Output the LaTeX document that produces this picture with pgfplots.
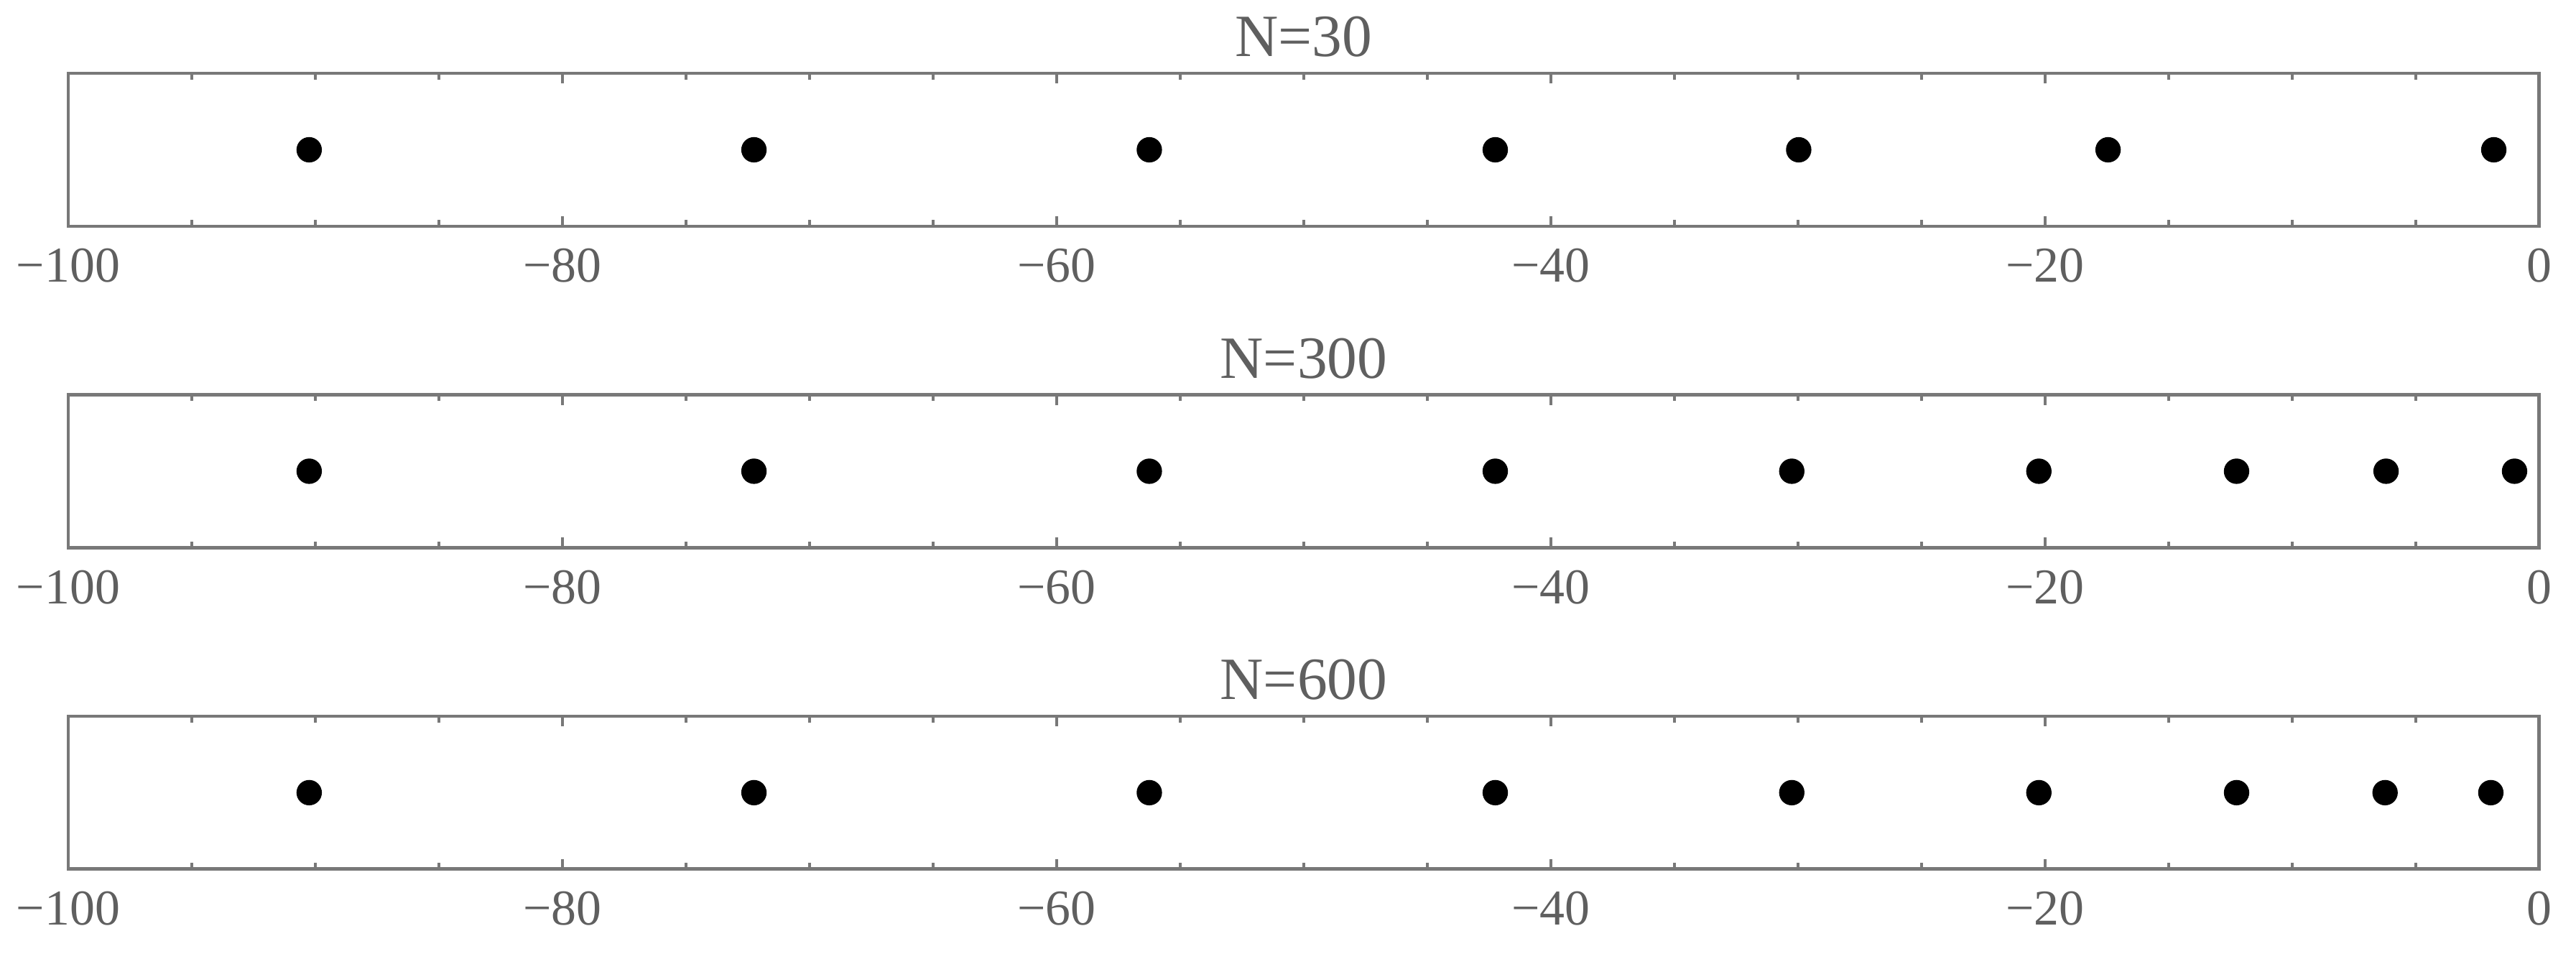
\documentclass[border=0pt]{standalone}
\usepackage{fontspec}
\setmainfont{Liberation Serif}
\usepackage{pgfplots}
\pgfplotsset{compat=1.18}
\definecolor{framegray}{RGB}{120,120,120}
\definecolor{textgray}{RGB}{95,95,95}

\pgfplotsset{
  panel/.style={
    width=15.06cm, height=0.9325cm, scale only axis,
    xmin=-100, xmax=0, ymin=0, ymax=1,
    ytick=\empty,
    xtick={-100,-80,-60,-40,-20,0},
    xticklabels={−100,−80,−60,−40,−20,0},
    minor x tick num=3,
    xtick pos=both, tick align=inside,
    major tick length=0.062cm, minor tick length=0.038cm,
    axis line style={framegray, line width=0.6pt},
    every tick/.style={framegray, line width=0.5pt},
    ticklabel style={font=\fontsize{8.7}{10}\selectfont, text=textgray},
    xticklabel style={inner sep=0pt, yshift=-3.7pt},
    every axis title/.style={at={(0.5,1)}, anchor=south, inner sep=0pt, yshift=2.6pt,
      font=\fontsize{10.4}{12}\selectfont, text=textgray},
    clip=false,
  },
  dots/.style={only marks, mark=*, mark size=2pt, black},
}

\begin{document}
\begin{tikzpicture}
\useasboundingbox (-0.416,-0.517) rectangle (15.284,5.297);
% N=30
\begin{axis}[panel, at={(0,3.918cm)}, title={N=30}]
\addplot[dots] coordinates {(-90.25,0.5)(-72.25,0.5)(-56.25,0.5)(-42.25,0.5)(-29.97,0.5)(-17.45,0.5)(-1.84,0.5)};
\end{axis}
% N=300
\begin{axis}[panel, at={(0,1.959cm)}, title={N=300}]
\addplot[dots] coordinates {(-90.25,0.5)(-72.25,0.5)(-56.25,0.5)(-42.25,0.5)(-30.25,0.5)(-20.25,0.5)(-12.25,0.5)(-6.2,0.5)(-1.0,0.5)};
\end{axis}
% N=600
\begin{axis}[panel, at={(0,0cm)}, title={N=600}]
\addplot[dots] coordinates {(-90.25,0.5)(-72.25,0.5)(-56.25,0.5)(-42.25,0.5)(-30.25,0.5)(-20.25,0.5)(-12.25,0.5)(-6.24,0.5)(-1.96,0.5)};
\end{axis}
\end{tikzpicture}
\end{document}
